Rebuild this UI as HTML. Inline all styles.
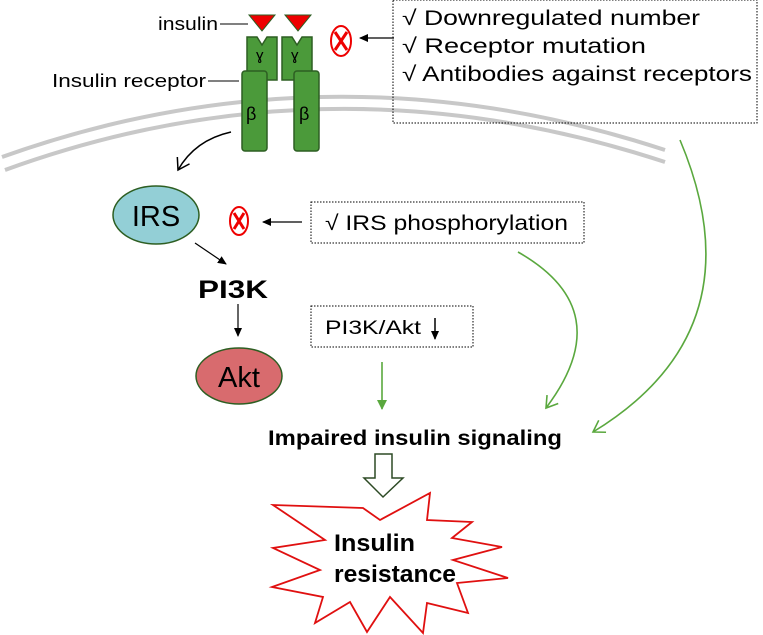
<!DOCTYPE html>
<html><head><meta charset="utf-8"><style>
html,body{margin:0;padding:0;background:#fff;}
svg{display:block;font-family:"Liberation Sans","DejaVu Sans",sans-serif;}
</style></head><body>
<svg width="763" height="635" viewBox="0 0 763 635">
<defs>
<marker id="ab" markerWidth="10" markerHeight="10" refX="8" refY="5" orient="auto" markerUnits="userSpaceOnUse"><path d="M0,1 L9,5 L0,9 z" fill="#000"/></marker>
<marker id="ag" markerWidth="12" markerHeight="12" refX="9" refY="6" orient="auto" markerUnits="userSpaceOnUse"><path d="M0,1 L10,6 L0,11 z" fill="#5aa83e"/></marker>
<marker id="ao" markerWidth="16" markerHeight="16" refX="13" refY="8" orient="auto" markerUnits="userSpaceOnUse"><path d="M2,1 L13,8 L2,15" fill="none" stroke="#000" stroke-width="1.5"/></marker>
<marker id="ago" markerWidth="16" markerHeight="16" refX="13" refY="8" orient="auto" markerUnits="userSpaceOnUse"><path d="M2,1 L13,8 L2,15" fill="none" stroke="#5aa83e" stroke-width="1.6"/></marker>
</defs>
<g fill="none" stroke="#c8c8c8" stroke-width="4">
<path d="M2,157 Q330,40 665,150"/>
<path d="M5,170 Q330,52 665,162"/>
</g>
<g fill="#4b9a3a" stroke="#2d5e22" stroke-width="1.5">
<path d="M247,37 L257,37 L262,45 L267,37 L277,37 L277,80 L247,80 z"/>
<path d="M282,37 L292,37 L297,45 L302,37 L312,37 L312,80 L282,80 z"/>
<rect x="242" y="71" width="25" height="80" rx="3"/>
<rect x="294" y="71" width="25" height="80" rx="3"/>
</g>
<g font-size="15" fill="#000">
<text x="256" y="60">ɣ</text><text x="291" y="60">ɣ</text>
<text x="246" y="120" font-size="18">β</text><text x="299" y="120" font-size="18">β</text>
</g>
<g fill="#e00" stroke="#2d5e22" stroke-width="1">
<path d="M249,15 L275,15 L262,31 z"/><path d="M285,15 L311,15 L298,31 z"/>
</g>
<text x="158" y="30" font-size="18" textLength="60" lengthAdjust="spacingAndGlyphs">insulin</text>
<line x1="220" y1="24" x2="248" y2="24" stroke="#000"/>
<text x="52" y="87" font-size="18" textLength="154" lengthAdjust="spacingAndGlyphs">Insulin receptor</text>
<line x1="208" y1="81" x2="239" y2="81" stroke="#000"/>
<g>
<ellipse cx="341" cy="41" rx="10" ry="15" fill="#fff" stroke="#e00" stroke-width="2"/>
<path d="M335,32 L347,50 M347,32 L335,50" stroke="#e00" stroke-width="3"/>
</g>
<line x1="394" y1="38" x2="360" y2="38" stroke="#000" stroke-width="1.3" marker-end="url(#ab)"/>
<rect x="393" y="0" width="364" height="123" fill="none" stroke="#000" stroke-dasharray="1.5,1.5"/>
<g font-size="21">
<text x="402" y="25" textLength="298" lengthAdjust="spacingAndGlyphs">√ Downregulated number</text>
<text x="402" y="53" textLength="244" lengthAdjust="spacingAndGlyphs">√ Receptor mutation</text>
<text x="402" y="81" textLength="350" lengthAdjust="spacingAndGlyphs">√ Antibodies against receptors</text>
</g>
<path d="M231,132 Q195,140 178,170" fill="none" stroke="#000" stroke-width="1.5" marker-end="url(#ao)"/>
<ellipse cx="156" cy="215" rx="43" ry="29" fill="#93cfd6" stroke="#2d5e22" stroke-width="1.5"/>
<text x="156" y="226" font-size="29" text-anchor="middle">IRS</text>
<g>
<ellipse cx="239" cy="221" rx="9" ry="14" fill="#fff" stroke="#e00" stroke-width="2"/>
<path d="M234,213 L244,229 M244,213 L234,229" stroke="#e00" stroke-width="3"/>
</g>
<line x1="302" y1="222" x2="263" y2="222" stroke="#000" stroke-width="1.3" marker-end="url(#ab)"/>
<rect x="311" y="202" width="273" height="41" fill="none" stroke="#000" stroke-dasharray="1.5,1.5"/>
<text x="325" y="230" font-size="21" textLength="243" lengthAdjust="spacingAndGlyphs">√ IRS phosphorylation</text>
<line x1="195" y1="243" x2="226" y2="264" stroke="#000" stroke-width="1.2" marker-end="url(#ab)"/>
<text x="198" y="298" font-size="25" font-weight="bold" textLength="70" lengthAdjust="spacingAndGlyphs">PI3K</text>
<line x1="238" y1="304" x2="238" y2="336" stroke="#000" stroke-width="1.2" marker-end="url(#ab)"/>
<ellipse cx="239" cy="376" rx="43" ry="28" fill="#d86b6e" stroke="#2d5e22" stroke-width="1.5"/>
<text x="239" y="387" font-size="29" text-anchor="middle">Akt</text>
<rect x="311" y="306" width="162" height="41" fill="none" stroke="#000" stroke-dasharray="1.5,1.5"/>
<text x="325" y="334" font-size="19" textLength="96" lengthAdjust="spacingAndGlyphs">PI3K/Akt</text>
<line x1="435" y1="318" x2="435" y2="339" stroke="#000" stroke-width="1.5" marker-end="url(#ab)"/>
<line x1="382" y1="362" x2="382" y2="409" stroke="#5aa83e" stroke-width="1.6" marker-end="url(#ag)"/>
<path d="M518,252 Q620,310 546,408" fill="none" stroke="#5aa83e" stroke-width="1.6" marker-end="url(#ago)"/>
<path d="M680,140 Q760,330 593,432" fill="none" stroke="#5aa83e" stroke-width="1.6" marker-end="url(#ago)"/>
<text x="268" y="445" font-size="21" font-weight="bold" textLength="294" lengthAdjust="spacingAndGlyphs">Impaired insulin signaling</text>
<path d="M375,454 L392,454 L392,478 L403,478 L383,497 L364,478 L375,478 z" fill="#fff" stroke="#2d4a25" stroke-width="1.5"/>
<polygon points="273,505 363,508 380,520 430,493 427,520 472,522 452,538 502,547 453,560 508,578 457,583 468,613 427,603 423,633 390,597 367,632 350,602 315,623 323,597 272,587 320,570 273,548 325,540" fill="#fff" stroke="#e01010" stroke-width="1.8"/>
<g font-size="24" font-weight="bold">
<text x="334" y="551" textLength="81" lengthAdjust="spacingAndGlyphs">Insulin</text>
<text x="334" y="582" textLength="122" lengthAdjust="spacingAndGlyphs">resistance</text>
</g>
</svg>
</body></html>
